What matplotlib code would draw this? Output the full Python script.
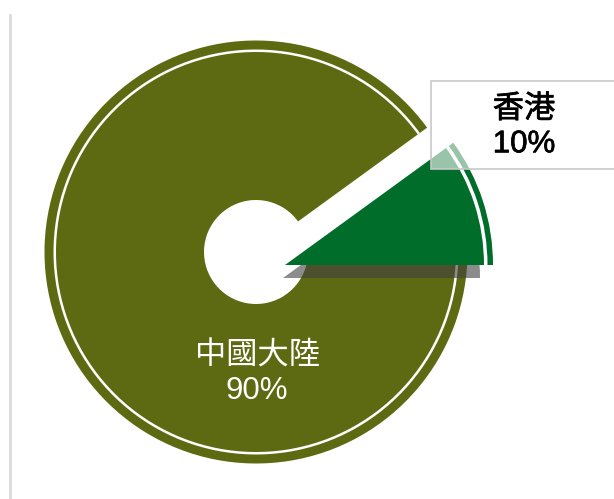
import matplotlib.pyplot as plt
import matplotlib.patheffects as pe
from matplotlib.patches import Rectangle

plt.rcParams['font.family'] = ['Liberation Sans', 'Noto Sans CJK TC', 'DejaVu Sans']

# data
labels = ['中國大陸', '香港']
values = [90, 10]
colors = ['#5e6a12', '#016d2a']

fig = plt.figure(figsize=(6.14, 4.99), dpi=100)
ax = fig.add_axes([0, 0, 1, 1])

# centre of the big slice and of the pulled-out small slice (pixels)
c_big = (256, 252)
c_small = (285, 265)
c_shadow = (283, 278)

# shadow under the small slice
sh, _ = ax.pie(values, startangle=0, radius=197, center=c_shadow,
               colors=['none', '#404040'], frame=True,
               wedgeprops=dict(linewidth=0))
sh[0].set_visible(False)
sh[1].set_alpha(0.6)
sh[1].set_zorder(2)

# main slices
w, _ = ax.pie(values, startangle=0, radius=211.5, center=c_big,
              colors=colors, frame=True,
              wedgeprops=dict(width=211.5 - 52, linewidth=0))
w[0].set_zorder(1)
w[1].set_center(c_small)
w[1].set_radius(208)
w[1].set_width(None)
w[1].set_zorder(3)

# thin white rings near the outer edge
r, _ = ax.pie(values, startangle=0, radius=202.5, center=c_big,
              colors=['white', 'white'], frame=True,
              wedgeprops=dict(width=2.5, linewidth=0))
r[0].set_zorder(1.5)
r[1].set_center(c_small)
r[1].set_radius(202.5)
r[1].set_width(3.5)
r[1].set_zorder(3.5)

# labels
ax.text(257, 374, labels[0] + '\n' + f'{values[0]}%', color='white',
        fontsize=22.5, ha='center', va='center', linespacing=1.2, zorder=6)

ax.add_patch(Rectangle((430.5, 81), 200, 88, facecolor=(1, 1, 1, 0.6),
                       edgecolor='#c8c8c8', linewidth=1.2, zorder=5))
ax.text(524, 127, labels[1] + '\n' + f'{values[1]}%', color='black',
        fontsize=22.5, ha='center', va='center', linespacing=1.2, zorder=6,
        path_effects=[pe.withStroke(linewidth=0.5, foreground='black')])

# left border line
ax.plot([9.8, 9.8], [15, 499], color='#dcdcdc', linewidth=2, zorder=0)

ax.set_xlim(0, 614)
ax.set_ylim(499, 0)
ax.axis('off')

fig.savefig('out.png', dpi=100)
